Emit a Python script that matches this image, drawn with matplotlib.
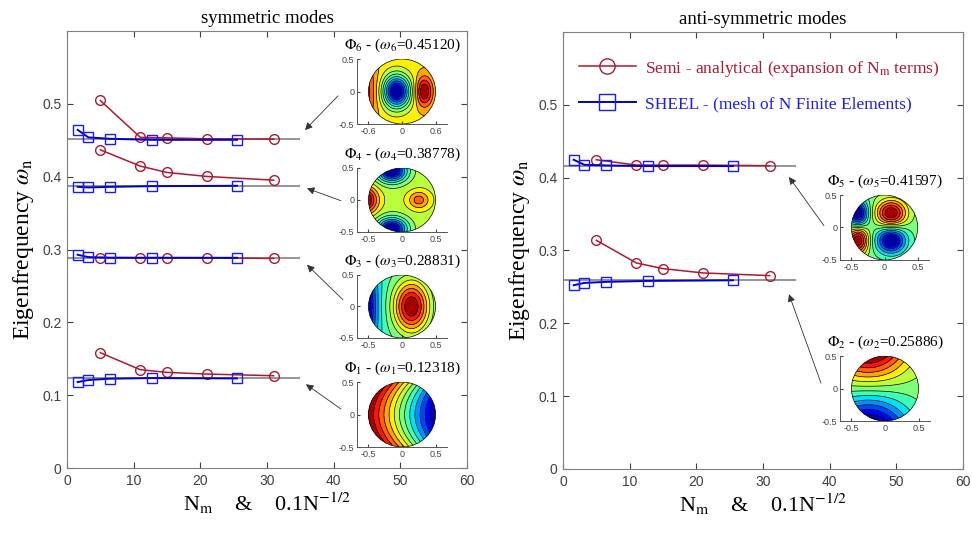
import numpy as np
import matplotlib
matplotlib.use('Agg')
import matplotlib.pyplot as plt
from matplotlib.lines import Line2D
from matplotlib.patches import Ellipse

plt.rcParams['font.family'] = ['Liberation Serif', 'DejaVu Serif']
plt.rcParams['mathtext.fontset'] = 'stix'

# x positions: N_m for the semi-analytical series, 0.1N^-1/2 for the FE meshes
nm = [5, 11, 15, 21, 31]
nfe = [1.6, 3.2, 6.4, 12.7, 25.5]

# symmetric modes 6, 4, 3, 1
sym_modes = [6, 4, 3, 1]
sym_ref = [0.45120, 0.38778, 0.28831, 0.12318]
sym_semi = [[0.5046, 0.4540, 0.4533, 0.4520, 0.4515],
            [0.4369, 0.4145, 0.4058, 0.4003, 0.3952],
            [0.2890, 0.2887, 0.2887, 0.2887, 0.2877],
            [0.1583, 0.1350, 0.1313, 0.1290, 0.1267]]
sym_fe = [[0.4643, 0.4540, 0.4520, 0.4506, 0.4506],
          [0.3861, 0.3852, 0.3860, 0.3870, 0.3875],
          [0.2928, 0.2896, 0.2887, 0.2887, 0.2886],
          [0.1180, 0.1208, 0.1226, 0.1235, 0.1230]]

# anti-symmetric modes 5, 2
anti_modes = [5, 2]
anti_ref = [0.41597, 0.25886]
anti_semi = [[0.4246, 0.4173, 0.4173, 0.4173, 0.4164],
             [0.3140, 0.2829, 0.2751, 0.2692, 0.2655]]
anti_fe = [[0.4246, 0.4177, 0.4168, 0.4159, 0.4159],
           [0.2523, 0.2555, 0.2569, 0.2582, 0.2591]]

ref_xmax = 35

# mode shapes (sketch of the inset contour maps): gaussian bumps (amp, cx, cy, sx, sy)
bumps = {
    6: [(1.0, 0.33, 0.0, 0.12, 0.22), (-2.0, -0.08, 0.0, 0.2, 0.25), (0.7, -0.58, 0.0, 0.2, 0.5)],
    4: [(1.0, -0.55, 0.0, 0.18, 0.2), (0.5, 0.25, 0.0, 0.16, 0.14),
        (-1.3, -0.15, 0.45, 0.22, 0.17), (-1.3, -0.15, -0.45, 0.22, 0.17)],
    3: [(-1.0, -0.62, 0.0, 0.22, 0.8), (1.0, 0.14, 0.0, 0.26, 0.4)],
    5: [(1.0, 0.1, 0.22, 0.22, 0.2), (1.0, -0.4, -0.2, 0.15, 0.2),
        (-1.0, -0.4, 0.22, 0.15, 0.2), (-1.0, 0.1, -0.2, 0.22, 0.2)],
}

red = '#b01830'
blue_m = '#1a1aff'
blue_l = '#0000c8'


def field(num, X, Y):
    if num == 1:
        return -(X - 0.9 * Y**2)
    if num == 2:
        return Y * np.exp(-3 * (X + 0.25)**2)
    F = np.zeros_like(X)
    for a, cx, cy, sx, sy in bumps[num]:
        F += a * np.exp(-((X - cx) / sx)**2 - ((Y - cy) / sy)**2)
    return F


def draw_mode(rect, num, omega, xs=1.0):
    ax = fig.add_axes(rect)
    g = np.linspace(-0.5, 0.5, 241)
    X, Y = np.meshgrid(g, g)
    F = field(num, X, Y)
    inside = X**2 + Y**2 <= 0.25
    lev = np.linspace(F[inside].min(), F[inside].max(), 14)
    disk = Ellipse((0, 0), 1.0 * xs, 1.0, transform=ax.transData, fc='none', ec='k', lw=0.5)
    cf = ax.contourf(X * xs, Y, F, levels=lev, cmap='jet', extend='both')
    cl = ax.contour(X * xs, Y, F, levels=lev, colors='k', linewidths=0.5, linestyles='solid')
    cf.set_clip_path(disk)
    cl.set_clip_path(disk)
    ax.add_patch(disk)
    ax.set_xlim(-0.67 * xs, 0.67 * xs)
    ax.set_ylim(-0.5, 0.5)
    if xs > 1:
        ax.set_xticks([-0.6, 0, 0.6])
        ax.set_xticklabels(['-0.6', '0', '0.6'])
    else:
        ax.set_xticks([-0.5, 0, 0.5])
        ax.set_xticklabels(['-0.5', '0', '0.5'])
    ax.set_yticks([-0.5, 0, 0.5])
    ax.set_yticklabels(['-0.5', '0', '0.5'])
    ax.spines['top'].set_visible(False)
    ax.spines['right'].set_visible(False)
    for s in ax.spines.values():
        s.set_color('#555555')
        s.set_linewidth(0.7)
    ax.tick_params(direction='in', length=2, labelsize=6.5, colors='#444444', pad=2)
    for t in ax.get_xticklabels() + ax.get_yticklabels():
        t.set_family('Liberation Sans')
    ax.set_title(r'$\Phi_{%d}$ - ($\omega_{%d}$=%.5f)' % (num, num, omega),
                 fontsize=11, pad=7)
    return ax


def style_main(ax, title):
    ax.set_xlim(0, 60)
    ax.set_ylim(0, 0.6)
    ax.set_xticks(range(0, 61, 10))
    ax.set_yticks([0, 0.1, 0.2, 0.3, 0.4, 0.5])
    ax.set_yticklabels(['0', '0.1', '0.2', '0.3', '0.4', '0.5'])
    ax.tick_params(direction='in', top=True, right=True, length=4, labelsize=10,
                   colors='#404040', pad=4)
    for t in ax.get_xticklabels() + ax.get_yticklabels():
        t.set_family('Liberation Sans')
    for s in ax.spines.values():
        s.set_color('#808080')
    ax.set_title(title, fontsize=13.5, pad=6)
    ax.set_xlabel(r'N$_{\rm m}$    &    0.1N$^{\rm {-}1/2}$', fontsize=16, labelpad=2)
    ax.set_ylabel(r'Eigenfrequency $\omega_{\rm n}$', fontsize=17, labelpad=4)


def draw_series(ax, refs, semi, fe):
    for r, s, f in zip(refs, semi, fe):
        ax.hlines(r, 0, ref_xmax, color='#8c8c8c', lw=1.3, zorder=1)
        ax.plot(nm, s, color=red, lw=1.1, marker='o', ms=7, mfc='none', mec=red, mew=1.0, zorder=2)
        ax.plot(nfe, f, color=blue_l, lw=1.4, marker='s', ms=7, mfc='none', mec=blue_m, mew=1.0, zorder=3)


fig = plt.figure(figsize=(9.72, 5.47), dpi=100)
axL = fig.add_axes([0.0689, 0.1444, 0.4115, 0.7989])
axR = fig.add_axes([0.5792, 0.1426, 0.4115, 0.7989])

draw_series(axL, sym_ref, sym_semi, sym_fe)
draw_series(axR, anti_ref, anti_semi, anti_fe)
style_main(axL, 'symmetric modes')
style_main(axR, 'anti-symmetric modes')

# arrows from the mode maps to the reference lines (tail, tip) in data units
sym_arrows = [((40.65, 0.511), (35.7, 0.464)), ((41.1, 0.367), (36.0, 0.384)),
              ((41.4, 0.231), (36.0, 0.279)), ((41.1, 0.081), (35.85, 0.115))]
anti_arrows = [((39.15, 0.334), (33.9, 0.401)), ((38.7, 0.118), (33.9, 0.240))]
for ax, arrows in ((axL, sym_arrows), (axR, anti_arrows)):
    for tail, tip in arrows:
        ax.annotate('', xy=tip, xytext=tail,
                    arrowprops=dict(arrowstyle='-|>', color='#333333', lw=0.6,
                                    mutation_scale=11, shrinkA=0, shrinkB=0))

handles = [Line2D([], [], color=red, lw=1.1, marker='o', ms=11, mfc='none', mec=red),
           Line2D([], [], color=blue_l, lw=1.4, marker='s', ms=11, mfc='none', mec=blue_m)]
leg = axR.legend(handles, [r'Semi - analytical (expansion of N$_{\rm m}$ terms)',
                           'SHEEL - (mesh of N Finite Elements)'],
                 loc='upper left', bbox_to_anchor=(0.0, 0.975), frameon=False,
                 fontsize=12.5, handlelength=3.3, handletextpad=0.5, labelspacing=1.0)
leg.get_texts()[0].set_color(red)
leg.get_texts()[1].set_color(blue_m)

# mode-shape insets
draw_mode([0.3673, 0.7733, 0.0926, 0.1188], 6, 0.45120, xs=1.2)
draw_mode([0.3673, 0.5759, 0.0926, 0.1170], 4, 0.38778)
draw_mode([0.3673, 0.3821, 0.0926, 0.1152], 3, 0.28831)
draw_mode([0.3673, 0.1828, 0.0926, 0.1188], 1, 0.12318)
draw_mode([0.8642, 0.5247, 0.0916, 0.1188], 5, 0.41597)
draw_mode([0.8642, 0.2303, 0.0926, 0.1188], 2, 0.25886)

fig.savefig('out.png', dpi=100)
